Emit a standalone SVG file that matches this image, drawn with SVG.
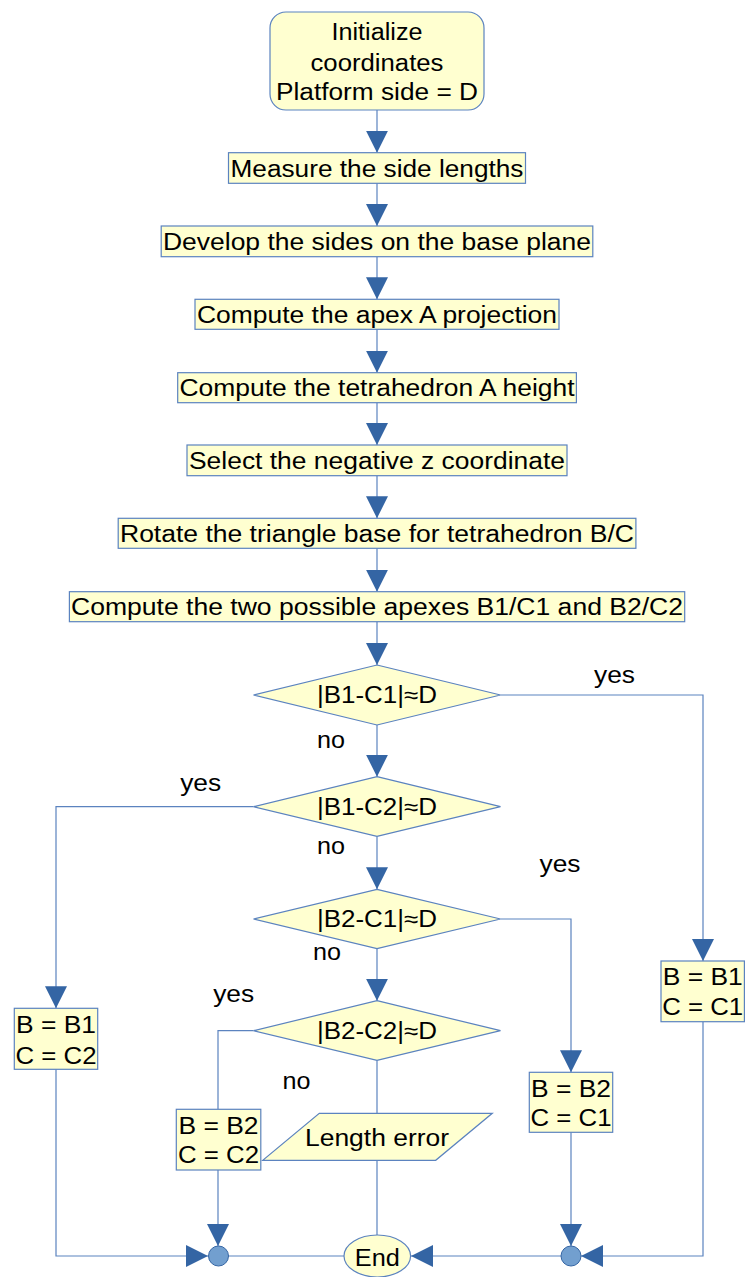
<svg xmlns="http://www.w3.org/2000/svg" width="747" height="1277" viewBox="0 0 747 1277">
<defs>
<marker id="arr" markerUnits="userSpaceOnUse" markerWidth="22" markerHeight="22" viewBox="0 0 22 22" refX="22" refY="11" orient="auto">
<path d="M0,0 L22,11 L0,22 Z" fill="#3465a4"/>
</marker>
<style>
.n{fill:#ffffd0;stroke:#5b83bf;stroke-width:1.2}
.t{font-family:"Liberation Sans",Arial,sans-serif;font-size:23px;fill:#000;text-anchor:middle}
.c{fill:none;stroke:#5b83bf;stroke-width:1.2}
.a{marker-end:url(#arr)}
.j{fill:#729fcf;stroke:#3465a4;stroke-width:1}
</style>
</defs>
<g id="connectors">
<path class="c a" d="M377,110 V152.7"/>
<path class="c a" d="M377,183.3 V226"/>
<path class="c a" d="M377,256.7 V299.3"/>
<path class="c a" d="M377,329.3 V372.7"/>
<path class="c a" d="M377,402.7 V445"/>
<path class="c a" d="M377,475.7 V518.3"/>
<path class="c a" d="M377,548.3 V591.7"/>
<path class="c a" d="M377,621.7 V665"/>
<path class="c a" d="M377,725 V776.7"/>
<path class="c a" d="M377,836.4 V889.3"/>
<path class="c a" d="M377,948.7 V1000.7"/>
<path class="c a" d="M500.5,695 H703 V961"/>
<path class="c a" d="M253.5,806.7 H56 V1008.3"/>
<path class="c a" d="M500.5,919 H571 V1072.3"/>
<path class="c" d="M253.5,1030.7 H218 V1109.3"/>
<path class="c" d="M377,1060.4 V1113.3"/>
<path class="c" d="M377,1160.3 V1235"/>
<path class="c a" d="M56,1069.3 V1256 H208"/>
<path class="c a" d="M218,1170 V1246"/>
<path class="c" d="M228,1256 H344"/>
<path class="c a" d="M571,1132.3 V1246"/>
<path class="c a" d="M703,1021.7 V1256 H581"/>
<path class="c a" d="M561,1256 H411"/>
<text class="t" x="614.5" y="683" textLength="41" lengthAdjust="spacingAndGlyphs">yes</text>
<text class="t" x="331" y="748" textLength="28" lengthAdjust="spacingAndGlyphs">no</text>
<text class="t" x="200.7" y="790.7" textLength="41" lengthAdjust="spacingAndGlyphs">yes</text>
<text class="t" x="331" y="853.5" textLength="28" lengthAdjust="spacingAndGlyphs">no</text>
<text class="t" x="560" y="871.5" textLength="41" lengthAdjust="spacingAndGlyphs">yes</text>
<text class="t" x="327" y="960" textLength="28" lengthAdjust="spacingAndGlyphs">no</text>
<text class="t" x="233.7" y="1001.7" textLength="41" lengthAdjust="spacingAndGlyphs">yes</text>
<text class="t" x="296.5" y="1089" textLength="28" lengthAdjust="spacingAndGlyphs">no</text>
</g>
<g id="start">
<rect class="n" x="270" y="12" width="214" height="98" rx="16"/>
<text class="t" x="377" y="40" textLength="91" lengthAdjust="spacingAndGlyphs">Initialize</text>
<text class="t" x="377" y="70.7" textLength="133" lengthAdjust="spacingAndGlyphs">coordinates</text>
<text class="t" x="377" y="100" textLength="202" lengthAdjust="spacingAndGlyphs">Platform side = D</text>
</g>
<g id="measure">
<rect class="n" x="228.5" y="152.7" width="297" height="30.6"/>
<text class="t" x="377" y="176.7" textLength="293" lengthAdjust="spacingAndGlyphs">Measure the side lengths</text>
</g>
<g id="develop">
<rect class="n" x="161.2" y="226" width="431.6" height="30.7"/>
<text class="t" x="377" y="250.3" textLength="428" lengthAdjust="spacingAndGlyphs">Develop the sides on the base plane</text>
</g>
<g id="apex">
<rect class="n" x="195" y="299.3" width="364" height="30"/>
<text class="t" x="377" y="323.3" textLength="360" lengthAdjust="spacingAndGlyphs">Compute the apex A projection</text>
</g>
<g id="height">
<rect class="n" x="177.7" y="372.7" width="398.7" height="30"/>
<text class="t" x="377" y="396.3" textLength="395" lengthAdjust="spacingAndGlyphs">Compute the tetrahedron A height</text>
</g>
<g id="select">
<rect class="n" x="187" y="445" width="380" height="30.7"/>
<text class="t" x="377" y="469.3" textLength="376" lengthAdjust="spacingAndGlyphs">Select the negative z coordinate</text>
</g>
<g id="rotate">
<rect class="n" x="118.2" y="518.3" width="517.7" height="30"/>
<text class="t" x="377" y="542" textLength="514" lengthAdjust="spacingAndGlyphs">Rotate the triangle base for tetrahedron B/C</text>
</g>
<g id="apexes">
<rect class="n" x="69.4" y="591.7" width="615.3" height="30"/>
<text class="t" x="377" y="615.3" textLength="612" lengthAdjust="spacingAndGlyphs">Compute the two possible apexes B1/C1 and B2/C2</text>
</g>
<g id="d1">
<polygon class="n" points="377,665 500.5,695 377,725 253.5,695"/>
<text class="t" x="377" y="703" textLength="120" lengthAdjust="spacingAndGlyphs">|B1-C1|≈D</text>
</g>
<g id="d2">
<polygon class="n" points="377,776.7 500.5,806.7 377,836.4 253.5,806.7"/>
<text class="t" x="377" y="814.7" textLength="120" lengthAdjust="spacingAndGlyphs">|B1-C2|≈D</text>
</g>
<g id="d3">
<polygon class="n" points="377,889.3 500.5,919 377,948.7 253.5,919"/>
<text class="t" x="377" y="927.3" textLength="120" lengthAdjust="spacingAndGlyphs">|B2-C1|≈D</text>
</g>
<g id="d4">
<polygon class="n" points="377,1000.7 500.5,1030.7 377,1060.4 253.5,1030.7"/>
<text class="t" x="377" y="1038.7" textLength="120" lengthAdjust="spacingAndGlyphs">|B2-C2|≈D</text>
</g>
<g id="b1c1">
<rect class="n" x="661" y="961" width="83.4" height="60.7"/>
<text class="t" x="702.7" y="985" textLength="80" lengthAdjust="spacingAndGlyphs">B = B1</text>
<text class="t" x="702.7" y="1015" textLength="81" lengthAdjust="spacingAndGlyphs">C = C1</text>
</g>
<g id="b1c2">
<rect class="n" x="14.3" y="1008.3" width="83.4" height="61"/>
<text class="t" x="56" y="1033.3" textLength="80" lengthAdjust="spacingAndGlyphs">B = B1</text>
<text class="t" x="56" y="1064" textLength="81" lengthAdjust="spacingAndGlyphs">C = C2</text>
</g>
<g id="b2c1">
<rect class="n" x="529.3" y="1072.3" width="83.4" height="60"/>
<text class="t" x="571" y="1096.7" textLength="80" lengthAdjust="spacingAndGlyphs">B = B2</text>
<text class="t" x="571" y="1125.7" textLength="81" lengthAdjust="spacingAndGlyphs">C = C1</text>
</g>
<g id="b2c2">
<rect class="n" x="176.3" y="1109.3" width="84.5" height="60.7"/>
<text class="t" x="218.5" y="1134" textLength="80" lengthAdjust="spacingAndGlyphs">B = B2</text>
<text class="t" x="218.5" y="1163.3" textLength="81" lengthAdjust="spacingAndGlyphs">C = C2</text>
</g>
<g id="error">
<polygon class="n" points="319.3,1113.3 492.3,1113.3 435.7,1160.3 262.7,1160.3"/>
<text class="t" x="377" y="1145.7" textLength="144" lengthAdjust="spacingAndGlyphs">Length error</text>
</g>
<g id="end">
<ellipse class="n" cx="377.3" cy="1256" rx="33.3" ry="21"/>
<text class="t" x="377.3" y="1265.5" textLength="45" lengthAdjust="spacingAndGlyphs">End</text>
</g>
<g id="join-left">
<circle class="j" cx="218.5" cy="1256" r="10"/>
</g>
<g id="join-right">
<circle class="j" cx="571" cy="1256" r="10"/>
</g>
</svg>
